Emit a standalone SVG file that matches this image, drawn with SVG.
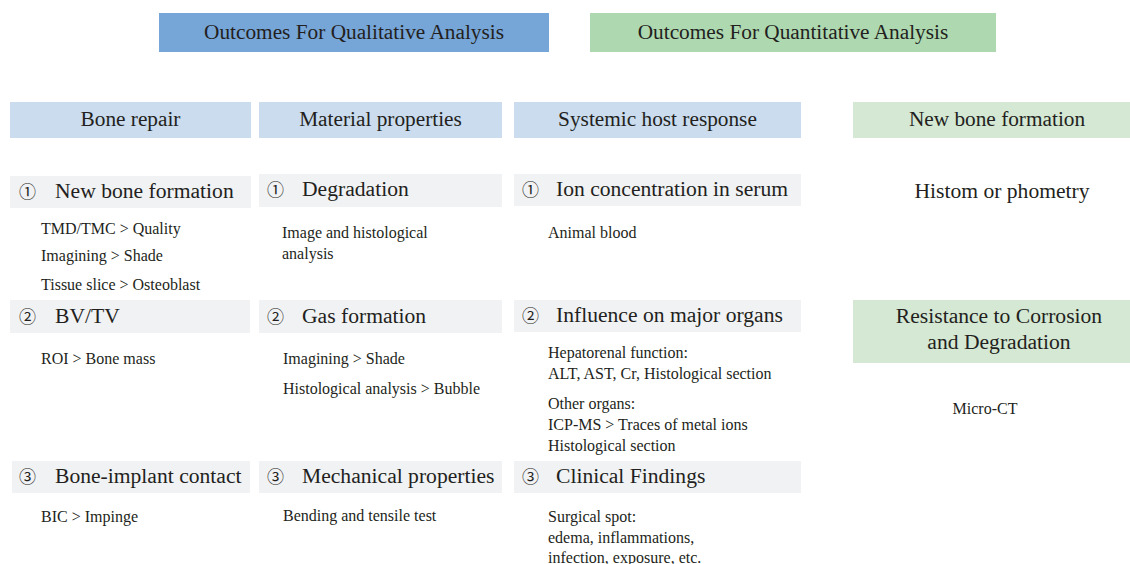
<svg xmlns="http://www.w3.org/2000/svg" width="1130" height="564" viewBox="0 0 1130 564">
  <style>
    text { font-family: "Liberation Serif", "Noto Sans CJK SC", serif; fill: #231f20; }
    .top { font-size: 21.3px; text-anchor: middle; }
    .col { font-size: 21.3px; text-anchor: middle; }
    .sub { font-size: 21.6px; }
    .num { font-size: 17px; font-family: "Noto Sans CJK SC", "DejaVu Sans", sans-serif; font-weight: 400; }
    .note { font-size: 16px; }
    .mid { text-anchor: middle; }
    .qual { fill: #76a5d8; }
    .quan { fill: #aed8b0; }
    .blue { fill: #cadcee; }
    .green { fill: #d4e8d4; }
    .grey { fill: #f1f2f4; }
  </style>

  <!-- top-level headings -->
  <g id="qualitative">
    <rect class="qual" x="159" y="13" width="390" height="39"/>
    <text class="top" x="354" y="39">Outcomes For Qualitative Analysis</text>
  </g>
  <g id="quantitative">
    <rect class="quan" x="590" y="13" width="406" height="39"/>
    <text class="top" x="793" y="39">Outcomes For Quantitative Analysis</text>
  </g>

  <!-- column headings -->
  <g id="bone-repair">
    <rect class="blue" x="10" y="102" width="241" height="36"/>
    <text class="col" x="130.5" y="126">Bone repair</text>
  </g>
  <g id="material-properties">
    <rect class="blue" x="259" y="102" width="243" height="36"/>
    <text class="col" x="380.5" y="126">Material properties</text>
  </g>
  <g id="systemic-host-response">
    <rect class="blue" x="514" y="102" width="287" height="36"/>
    <text class="col" x="657.5" y="126">Systemic host response</text>
  </g>
  <g id="new-bone-formation-q">
    <rect class="green" x="853" y="102" width="277" height="36"/>
    <text class="col" x="997" y="126">New bone formation</text>
  </g>

  <!-- Bone repair items -->
  <g id="br-1">
    <rect class="grey" x="10" y="176" width="241" height="32"/>
    <text class="num" x="19" y="198">①</text>
    <text class="sub" x="55" y="198">New bone formation</text>
    <text class="note" x="41" y="234">TMD/TMC &gt; Quality</text>
    <text class="note" x="41" y="261">Imagining &gt; Shade</text>
    <text class="note" x="41" y="290">Tissue slice &gt; Osteoblast</text>
  </g>
  <g id="br-2">
    <rect class="grey" x="10" y="300" width="240" height="33"/>
    <text class="num" x="19" y="323">②</text>
    <text class="sub" x="55" y="323">BV/TV</text>
    <text class="note" x="41" y="364">ROI &gt; Bone mass</text>
  </g>
  <g id="br-3">
    <rect class="grey" x="12" y="461" width="238" height="32"/>
    <text class="num" x="19" y="483">③</text>
    <text class="sub" x="55" y="483">Bone-implant contact</text>
    <text class="note" x="41" y="522">BIC &gt; Impinge</text>
  </g>

  <!-- Material properties items -->
  <g id="mp-1">
    <rect class="grey" x="259" y="174" width="243" height="33"/>
    <text class="num" x="267" y="196">①</text>
    <text class="sub" x="302" y="196">Degradation</text>
    <text class="note" x="282" y="238">Image and histological</text>
    <text class="note" x="282" y="259">analysis</text>
  </g>
  <g id="mp-2">
    <rect class="grey" x="259" y="300" width="243" height="33"/>
    <text class="num" x="267" y="323">②</text>
    <text class="sub" x="302" y="323">Gas formation</text>
    <text class="note" x="283" y="364">Imagining &gt; Shade</text>
    <text class="note" x="283" y="394">Histological analysis &gt; Bubble</text>
  </g>
  <g id="mp-3">
    <rect class="grey" x="259" y="461" width="243" height="32"/>
    <text class="num" x="267" y="483">③</text>
    <text class="sub" x="302" y="483">Mechanical properties</text>
    <text class="note" x="283" y="521">Bending and tensile test</text>
  </g>

  <!-- Systemic host response items -->
  <g id="sh-1">
    <rect class="grey" x="514" y="174" width="287" height="32"/>
    <text class="num" x="522" y="196">①</text>
    <text class="sub" x="556" y="196">Ion concentration in serum</text>
    <text class="note" x="548" y="238">Animal blood</text>
  </g>
  <g id="sh-2">
    <rect class="grey" x="514" y="300" width="287" height="32"/>
    <text class="num" x="522" y="322">②</text>
    <text class="sub" x="556" y="322">Influence on major organs</text>
    <text class="note" x="548" y="358">Hepatorenal function:</text>
    <text class="note" x="548" y="379">ALT, AST, Cr, Histological section</text>
    <text class="note" x="548" y="409">Other organs:</text>
    <text class="note" x="548" y="430">ICP-MS &gt; Traces of metal ions</text>
    <text class="note" x="548" y="451">Histological section</text>
  </g>
  <g id="sh-3">
    <rect class="grey" x="514" y="461" width="287" height="32"/>
    <text class="num" x="522" y="483">③</text>
    <text class="sub" x="556" y="483">Clinical Findings</text>
    <text class="note" x="548" y="522">Surgical spot:</text>
    <text class="note" x="548" y="543">edema, inflammations,</text>
    <text class="note" x="548" y="563">infection, exposure, etc.</text>
  </g>

  <!-- Quantitative items -->
  <g id="histomorphometry">
    <text class="sub mid" x="1002" y="198">Histom or phometry</text>
  </g>
  <g id="corrosion">
    <rect class="green" x="853" y="300" width="277" height="63"/>
    <text class="sub mid" x="999" y="323">Resistance to Corrosion</text>
    <text class="sub mid" x="999" y="349">and Degradation</text>
    <text class="note mid" x="985" y="414">Micro-CT</text>
  </g>

  <!-- no connectors in this chart -->
  <g id="connectors"/>
</svg>
